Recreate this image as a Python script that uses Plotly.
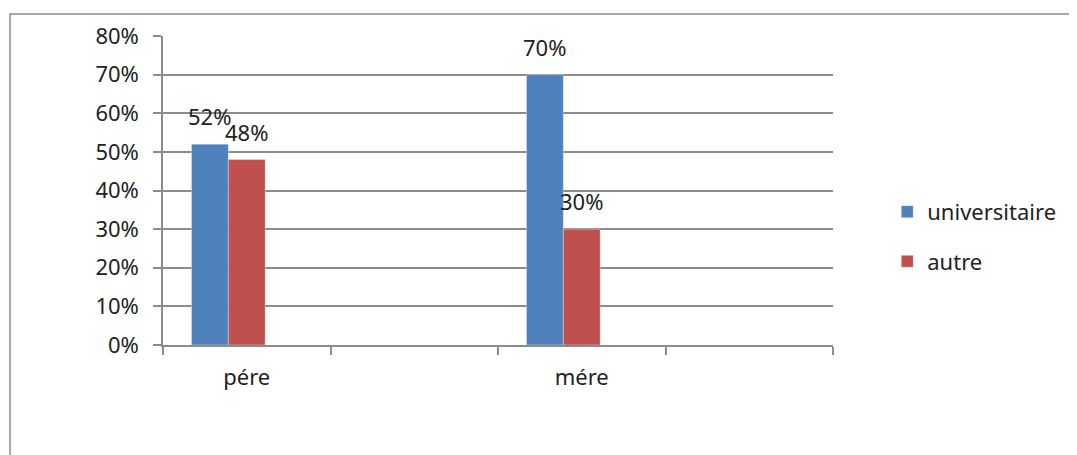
import plotly.graph_objects as go

categories = ["pére", " ", "mére", "  "]
series_names = ["universitaire", "autre"]
universitaire = [0.52, None, 0.70, None]
autre = [0.48, None, 0.30, None]
colors = ["#4F81BD", "#C0504D"]

FONT = "Noto Sans"
FS = 22
TXT = "#222222"
GRID = "#8C8C8C"
BAR_W = 0.22
offsets = [-0.33, -0.11]

fig = go.Figure()
for name, vals, col, off in zip(series_names, [universitaire, autre], colors, offsets):
    fig.add_trace(go.Bar(
        x=categories, y=vals, name=name, marker_color=col,
        marker_line=dict(color="rgba(255,255,255,0.35)", width=1),
        width=BAR_W, offset=off, legendgroup=name,
    ))
    for i, v in enumerate(vals):
        if v is None:
            continue
        fig.add_annotation(
            x=i + off + BAR_W / 2, y=v, xref="x", yref="y",
            text=f"{round(v*100)}%", showarrow=False,
            yanchor="bottom", yshift=11,
            font=dict(family=FONT, size=FS, color=TXT),
        )

fig.update_layout(
    width=1077, height=455,
    margin=dict(l=155, r=252, t=28, b=118),
    paper_bgcolor="white", plot_bgcolor="white",
    font=dict(family=FONT, size=FS, color=TXT),
    barmode="group",
    legend=dict(x=1.081, y=0.35, xanchor="left", yanchor="middle",
                traceorder="grouped", tracegroupgap=18,
                font=dict(family=FONT, size=FS, color=TXT)),
    xaxis=dict(
        type="category", categoryorder="array", categoryarray=categories,
        range=[-0.5, 3.5], showgrid=False, showline=True, linecolor=GRID, linewidth=1.5,
        ticks="outside", tickson="boundaries", ticklen=8, tickcolor=GRID, tickwidth=1.5,
        ticklabelstandoff=12, tickfont=dict(family=FONT, size=FS, color=TXT),
    ),
    yaxis=dict(
        range=[0, 0.8], dtick=0.1, tick0=0, tickformat=".0%",
        showgrid=True, gridcolor=GRID, gridwidth=1.5,
        showline=True, linecolor=GRID, linewidth=1.5,
        ticks="outside", ticklen=8, tickcolor=GRID, tickwidth=1.5,
        ticklabelstandoff=10, zeroline=False,
        tickfont=dict(family=FONT, size=FS, color=TXT),
    ),
)

# outer chart border (extends beyond the visible window, as in the reference)
fig.add_shape(type="rect", xref="paper", yref="paper",
              x0=(10 - 163) / 670, x1=(1090 - 163) / 670,
              y0=(345 - 470) / 309, y1=(345 - 14) / 309,
              line=dict(color="#8C8C8C", width=1.5), layer="below")

fig.write_html("out.html")
